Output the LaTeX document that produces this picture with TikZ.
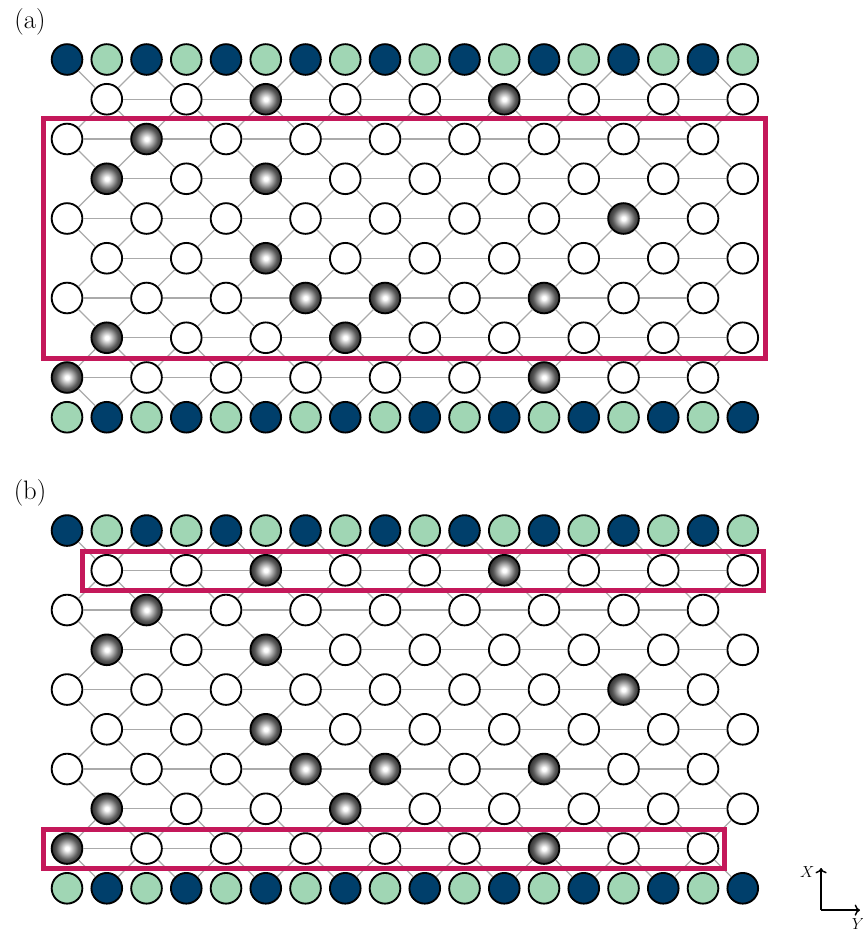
\documentclass[tikz,border=0pt]{standalone}
\usepackage{amsmath}
\usepackage{tikz}
\usetikzlibrary{arrows.meta,calc}
\definecolor{leaddark}{RGB}{0,63,107}
\definecolor{leadlight}{RGB}{160,214,180}
\definecolor{framered}{RGB}{196,24,90}
\definecolor{bondgray}{RGB}{170,170,170}
\pgfdeclareradialshading{dopantball}{\pgfpoint{0bp}{0bp}}{color(0bp)=(white); color(3bp)=(white); color(18bp)=(black!65); color(33bp)=(black); color(50bp)=(black)}
\tikzset{
  dop 1-5/.style={dopant}, dop 1-11/.style={dopant}, dop 2-2/.style={dopant},
  dop 3-1/.style={dopant}, dop 3-5/.style={dopant}, dop 4-14/.style={dopant},
  dop 5-5/.style={dopant}, dop 6-6/.style={dopant}, dop 6-8/.style={dopant},
  dop 6-12/.style={dopant}, dop 7-1/.style={dopant}, dop 7-7/.style={dopant},
  dop 8-0/.style={dopant}, dop 8-12/.style={dopant}
}

\begin{document}
\begin{tikzpicture}[x=29.81pt,y=-29.81pt,>={To},
  bond/.style={bondgray,line width=1pt},
  site/.style={circle,draw=black,line width=1.4pt,minimum size=23pt,inner sep=0pt},
  plain site/.style={site,fill=white},
  dopant/.style={shade,shading=dopantball},
  edge dark/.style={site,fill=leaddark},
  edge light/.style={site,fill=leadlight},
  frame/.style={framered,line width=3.75pt},
  panel/.style={font=\fontsize{20}{24}\selectfont},
  axis/.style={font=\fontsize{12}{14}\selectfont}]
\useasboundingbox (-1.686,-1.497) rectangle (20.0,21.95);
\foreach \p/\oy in {a/0,b/11.85} {
  \foreach \col [evaluate=\col as \nxt using int(\col+1)] in {0,2,...,16} {
    \node[edge dark] (\p-0-\col) at (\col,\oy) {};
    \node[edge light] (\p-0-\nxt) at (\nxt,\oy) {};
    \node[edge light] (\p-9-\col) at (\col,\oy+9) {};
    \node[edge dark] (\p-9-\nxt) at (\nxt,\oy+9) {};
  }
  \foreach \row in {1,3,5,7} {
    \foreach \col in {1,3,...,17}
      \node[plain site,dop \row-\col/.try] (\p-\row-\col) at (\col,\oy+\row) {};
  }
  \foreach \row in {2,4,6,8} {
    \foreach \col in {0,2,...,16}
      \node[plain site,dop \row-\col/.try] (\p-\row-\col) at (\col,\oy+\row) {};
  }
  \foreach \row in {1,3,5,7} {
    \foreach \col [evaluate=\col as \nxt using int(\col+2)] in {1,3,...,15}
      \draw[bond] (\p-\row-\col) -- (\p-\row-\nxt);
  }
  \foreach \row in {2,4,6,8} {
    \foreach \col [evaluate=\col as \nxt using int(\col+2)] in {0,2,...,14}
      \draw[bond] (\p-\row-\col) -- (\p-\row-\nxt);
  }
  \foreach \row [evaluate=\row as \low using int(\row+1)] in {0,2,...,8} {
    \foreach \col [evaluate=\col as \nxt using int(\col+1)] in {0,2,...,16}
      \draw[bond] (\p-\row-\col) -- (\p-\low-\nxt);
    \foreach \col [evaluate=\col as \nxt using int(\col-1)] in {2,4,...,16}
      \draw[bond] (\p-\row-\col) -- (\p-\low-\nxt);
  }
  \foreach \row [evaluate=\row as \low using int(\row+1)] in {1,3,5,7} {
    \foreach \col [evaluate=\col as \nxt using int(\col+1)] in {1,3,...,15}
      \draw[bond] (\p-\row-\col) -- (\p-\low-\nxt);
    \foreach \col [evaluate=\col as \nxt using int(\col-1)] in {1,3,...,17}
      \draw[bond] (\p-\row-\col) -- (\p-\low-\nxt);
  }
}
\draw[frame] (-0.6,1.48) rectangle (17.56,7.52);
\draw[frame] (0.4,12.38) rectangle (17.53,13.37);
\draw[frame] (-0.6,19.38) rectangle (16.55,20.36);
\node[panel] (lab-a) at (-0.93,-0.94) {(a)};
\node[panel] (lab-b) at (-0.93,10.89) {(b)};
\coordinate (ax-o) at (18.97,21.40);
\coordinate (ax-x) at (18.97,20.34);
\coordinate (ax-y) at (19.95,21.40);
\draw[->,line width=1.1pt] (ax-o) -- (ax-x);
\draw[->,line width=1.1pt] (ax-o) -- (ax-y);
\node[axis] (lab-x) at (18.62,20.43) {$X$};
\node[axis] (lab-y) at (19.9,21.76) {$Y$};
\end{tikzpicture}
\end{document}
